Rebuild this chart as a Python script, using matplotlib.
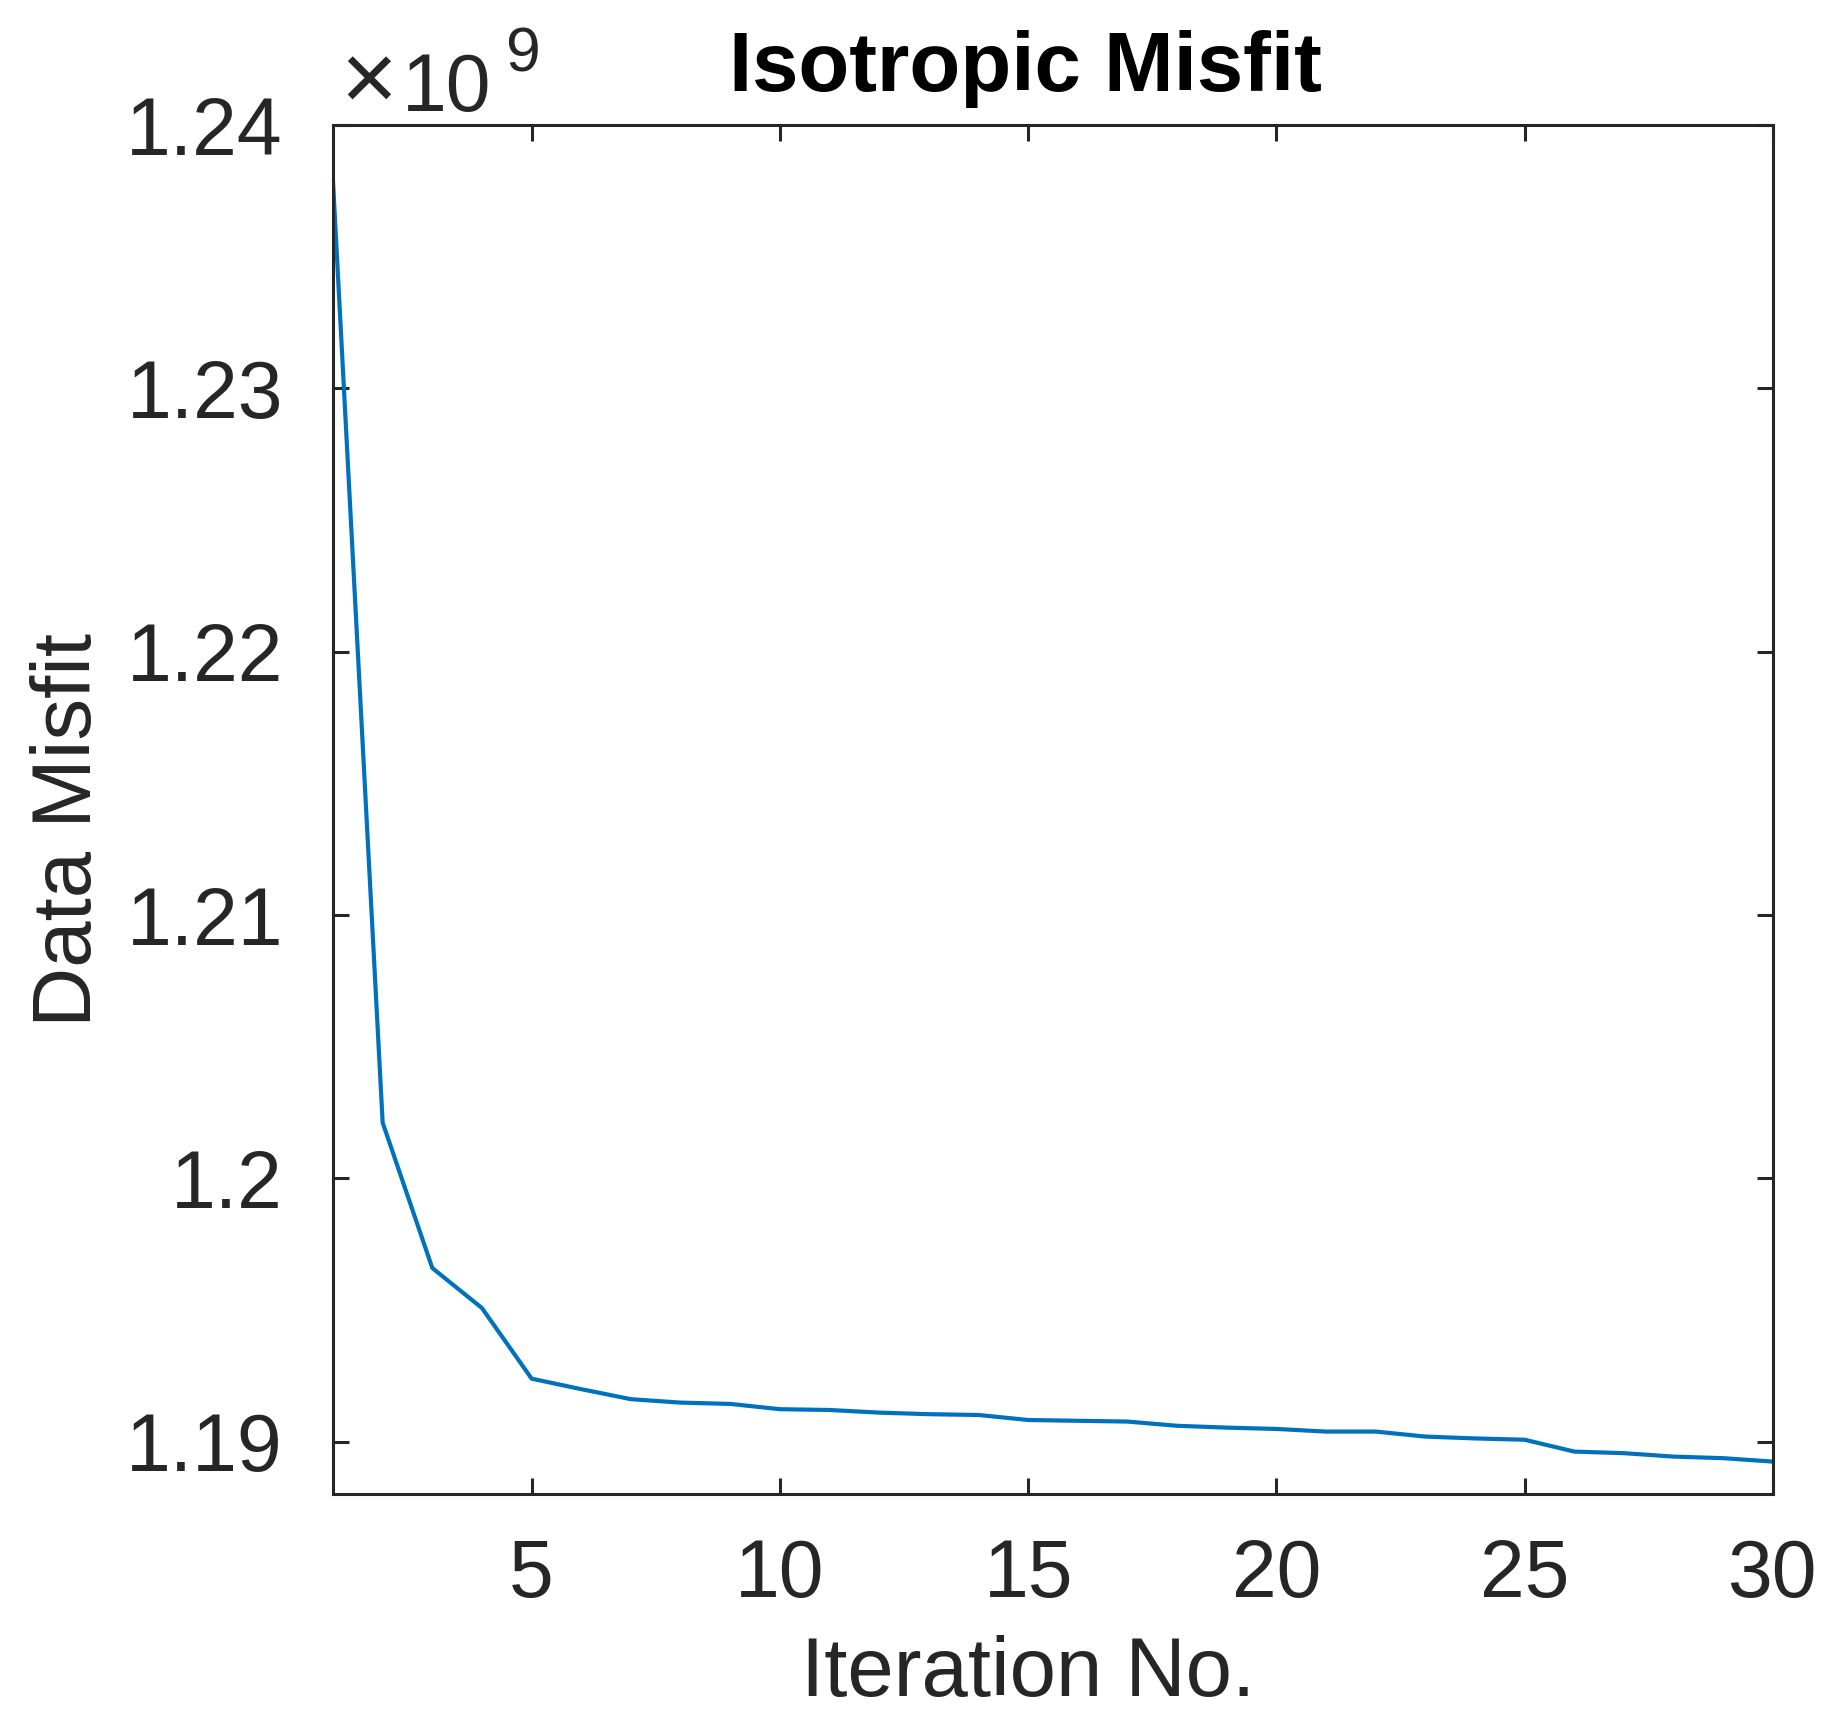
import numpy as np
import matplotlib
matplotlib.use("Agg")
import matplotlib.pyplot as plt
from matplotlib.ticker import FuncFormatter

plt.rcParams['font.family'] = ['Liberation Sans', 'DejaVu Sans']

# Data misfit per iteration (units of 1e9)
iterations = list(range(1, 31))
misfit = [1.23786, 1.20212, 1.19660, 1.19508, 1.19240, 1.19200, 1.19162, 1.19149,
          1.19144, 1.19124, 1.19121, 1.19111, 1.19105, 1.19102, 1.19083, 1.19080,
          1.19077, 1.19061, 1.19054, 1.19049, 1.19039, 1.19039, 1.19020, 1.19013,
          1.19008, 1.18963, 1.18957, 1.18944, 1.18938, 1.18925]

xticks = [5, 10, 15, 20, 25, 30]
yticks = [1.19, 1.20, 1.21, 1.22, 1.23, 1.24]

W, H = 1828, 1710
fig = plt.figure(figsize=(W / 100, H / 100), dpi=100)
ax = fig.add_axes([333 / W, 1 - 1494 / H, 1440 / W, 1369 / H])

ax.plot(iterations, misfit, color='#0072BD', linewidth=3.0)

ax.set_xlim(1, 30)
ax.set_ylim(1.18802, 1.24)
ax.set_xticks(xticks)
ax.set_yticks(yticks)
ax.yaxis.set_major_formatter(FuncFormatter(lambda v, p: f"{v:g}"))

axcol = '#262626'
for s in ax.spines.values():
    s.set_linewidth(2.2)
    s.set_color(axcol)
ax.tick_params(direction='in', length=11.5, width=2.2, colors=axcol,
               labelsize=58, top=True, right=True)
ax.tick_params(axis='x', pad=32)
ax.tick_params(axis='y', pad=36)

ax.set_title('Isotropic Misfit', fontsize=60, fontweight='bold', color='black',
             x=(1025 - 333) / 1440, y=(1494 - 91) / 1369, va='baseline', pad=0)

ax.set_xlabel('Iteration No.', fontsize=60, color=axcol)
ax.xaxis.set_label_coords((1028 - 333) / 1440, (1494 - 1696) / 1369)
ax.xaxis.label.set_va('baseline')

ax.set_ylabel('Data Misfit', fontsize=60, color=axcol)
ax.yaxis.set_label_coords((91 - 333) / 1440, (1494 - 830) / 1369)
ax.yaxis.label.set_rotation_mode('anchor')
ax.yaxis.label.set_va('baseline')
ax.yaxis.label.set_ha('center')

# exponent label like MATLAB
fig.text(340 / W, 1 - 111 / H, '\u00d7', fontsize=70, color=axcol, va='baseline', ha='left')
fig.text(402 / W, 1 - 111 / H, '10', fontsize=58, color=axcol, va='baseline', ha='left')
fig.text(505 / W, 1 - 72 / H, '9', fontsize=45, color=axcol, va='baseline', ha='left')

fig.savefig('out.png', dpi=100, facecolor='white')
